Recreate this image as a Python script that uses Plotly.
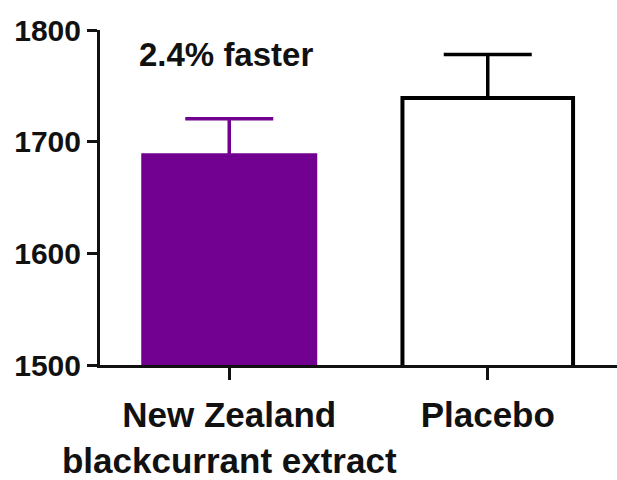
import plotly.graph_objects as go

categories = ["New Zealand<br>blackcurrant extract", "Placebo"]
means = [1689, 1739]
errors = [31.5, 39]
annotation_text = "2.4% faster"
y_ticks = [1500, 1600, 1700, 1800]

FONT = "Liberation Sans, Arial, sans-serif"
PURPLE = "#720090"

fig = go.Figure()
# purple bar: symmetric error so the lower half is hidden inside the filled bar
fig.add_trace(go.Bar(
    x=[categories[0]], y=[means[0]],
    marker=dict(color=PURPLE, line=dict(color=PURPLE, width=1.5)),
    width=0.675,
    error_y=dict(type="data", array=[errors[0]], symmetric=True,
                 color=PURPLE, thickness=3.5, width=44),
))
fig.add_trace(go.Bar(
    x=[categories[1]], y=[means[1]],
    marker=dict(color="white", line=dict(color="black", width=4)),
    width=0.66,
    error_y=dict(type="data", array=[errors[1]], arrayminus=[0], symmetric=False,
                 color="black", thickness=3.5, width=44),
))

fig.add_annotation(x=categories[0], y=1776, xref="x", yref="y", text=annotation_text,
                   showarrow=False, xshift=-3, yshift=2,
                   font=dict(family=FONT, size=33, color="#111", weight="bold"))

fig.update_layout(
    width=617, height=480,
    margin=dict(l=100, r=0, t=30, b=112),
    paper_bgcolor="white", plot_bgcolor="white",
    showlegend=False, barmode="overlay",
)
fig.update_xaxes(
    type="category", range=[-0.5, 1.5],
    showline=True, linecolor="#111", linewidth=3,
    ticks="outside", ticklen=12, tickwidth=3, tickcolor="#111",
    ticklabelstandoff=5,
    tickfont=dict(family=FONT, size=35, color="#111", weight="bold"),
    showgrid=False, zeroline=False,
)
fig.update_yaxes(
    range=[1500, 1800], tickvals=y_ticks,
    showline=True, linecolor="#111", linewidth=3,
    ticks="outside", ticklen=10, tickwidth=3, tickcolor="#111",
    tickfont=dict(family=FONT, size=30, color="#111", weight="bold"),
    showgrid=False, zeroline=False,
)

fig.write_html("out.html", config={"displayModeBar": False},
               post_script="document.body.style.margin='0px';")
